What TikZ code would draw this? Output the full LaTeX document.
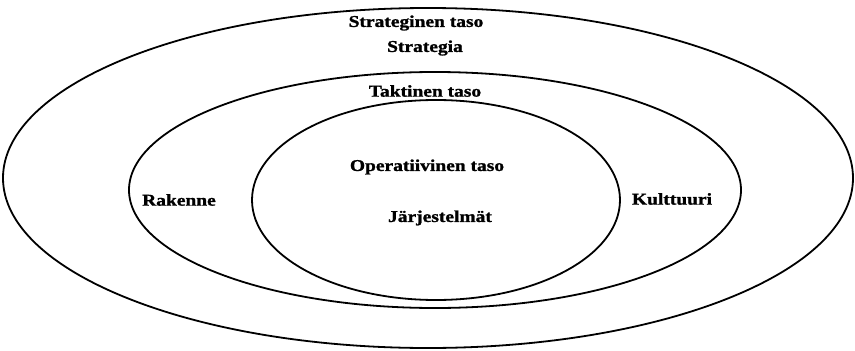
\documentclass[tikz,border=0pt]{standalone}
\usepackage{fontspec}
\setmainfont{Liberation Serif}
\newfontfamily\heavyfont[FakeBold=1.2]{Liberation Serif Bold}
\begin{document}
\begin{tikzpicture}[x=1pt,y=-1pt,
  ring/.style={line width=1.8pt,draw=black},
  lbl/.style={font=\heavyfont\fontsize{16.5}{19}\selectfont,inner sep=0pt,xscale=1.18,transform shape}]
\useasboundingbox (0,0) rectangle (855,351);
\fill[white] (0,0) rectangle (855,351);
\draw[ring] (428,178) ellipse [x radius=425, y radius=170];
\draw[ring] (435,190) ellipse [x radius=306, y radius=118];
\draw[ring] (436,200) ellipse [x radius=184, y radius=100];
\node[lbl] (strtaso) at (416,23) {Strateginen taso};
\node[lbl] (strategia) at (425,48) {Strategia};
\node[lbl] (taktaso) at (425,91) {Taktinen taso};
\node[lbl] (optaso) at (427,167) {Operatiivinen taso};
\node[lbl] (jarj) at (440,218) {Järjestelmät};
\node[lbl] (rakenne) at (179,200) {Rakenne};
\node[lbl] (kult) at (672,199) {Kulttuuri};
\end{tikzpicture}
\end{document}
